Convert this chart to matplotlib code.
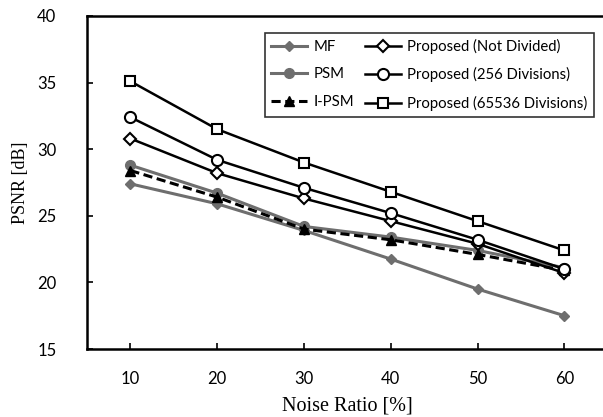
import matplotlib
matplotlib.use("Agg")
import matplotlib.pyplot as plt

noise = [10, 20, 30, 40, 50, 60]
mf = [27.4, 25.9, 23.9, 21.75, 19.5, 17.5]
psm = [28.8, 26.7, 24.2, 23.4, 22.4, 21.1]
ipsm = [28.4, 26.4, 24.0, 23.2, 22.1, 20.9]
prop_nd = [30.8, 28.2, 26.3, 24.6, 22.9, 20.7]
prop_256 = [32.4, 29.2, 27.1, 25.2, 23.2, 21.0]
prop_65536 = [35.1, 31.5, 29.0, 26.8, 24.6, 22.4]

gray = "#6e6e6e"
fig = plt.figure(figsize=(6.03, 4.17), dpi=100)
ax = fig.add_axes([87/603, 68/417, 520.8/603, 333/417])

ax.plot(noise, mf, color=gray, lw=2.2, marker="D", ms=5.5, mfc=gray, mec=gray, label="MF")
ax.plot(noise, psm, color=gray, lw=2.2, marker="o", ms=7, mfc=gray, mec=gray, label="PSM")
ax.plot(noise, ipsm, color="black", lw=2.2, ls=(0, (3, 1.5)), marker="^", ms=7, mfc="black", mec="black", label="I-PSM")
ax.plot(noise, prop_nd, color="black", lw=1.8, marker="D", ms=6.5, mfc="white", mec="black", mew=1.5, label="Proposed (Not Divided)")
ax.plot(noise, prop_256, color="black", lw=1.8, marker="o", ms=8, mfc="white", mec="black", mew=1.5, label="Proposed (256 Divisions)")
ax.plot(noise, prop_65536, color="black", lw=1.8, marker="s", ms=7.5, mfc="white", mec="black", mew=1.5, label="Proposed (65536 Divisions)")

ax.set_xlim(5, 65)
ax.set_ylim(15, 40)
ax.set_xticks(noise)
ax.set_yticks([15, 20, 25, 30, 35, 40])
ax.tick_params(direction="in", length=4, width=1.2, labelsize=12)
ax.tick_params(axis="x", pad=16)
ax.tick_params(axis="y", pad=22)
for lab in ax.get_xticklabels() + ax.get_yticklabels():
    lab.set_fontfamily("Lato")
for s in ax.spines.values():
    s.set_linewidth(1.8)
ax.spines["right"].set_visible(False)

ax.set_xlabel("Noise Ratio [%]", fontfamily="Liberation Serif", fontsize=14.5, labelpad=7)
ax.set_ylabel("PSNR [dB]", fontfamily="Liberation Serif", fontsize=13, labelpad=6)

leg = ax.legend(ncol=2, loc="upper left", bbox_to_anchor=((265-87)/520.8, (349-33)/333),
                prop={"family": "Lato", "size": 10.7}, frameon=True, fancybox=False,
                edgecolor="black", handlelength=2.4, handletextpad=0.45, columnspacing=0.75,
                labelspacing=0.9, borderpad=0.4, borderaxespad=0)
leg.get_frame().set_linewidth(1.2)

fig.savefig("out.png", dpi=100)
